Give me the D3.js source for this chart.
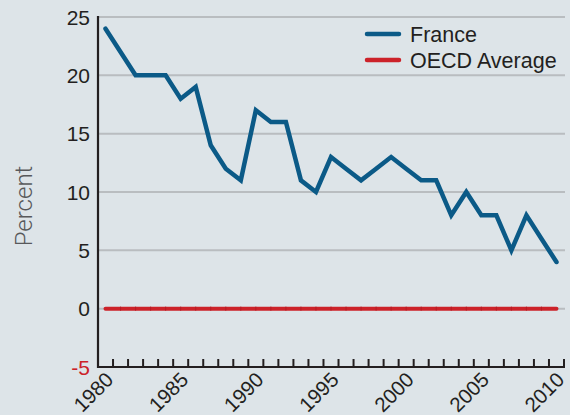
<!DOCTYPE html>
<html><head><meta charset="utf-8">
<script src="https://cdn.jsdelivr.net/npm/d3@7"></script>
<style>
html,body{margin:0;padding:0;background:#dde4e8;}
svg{display:block;font-family:"Liberation Sans",Arial,Helvetica,sans-serif;}
</style></head>
<body><svg id="c" width="570" height="415"></svg>
<script>
const years = d3.range(1980, 2011);
const france = [24,22,20,20,20,18,19,14,12,11,17,16,16,11,10,13,12,11,12,13,12,11,11,8,10,8,8,5,8,6,4];
const oecd = years.map(() => 0);
const yTicks = [-5,0,5,10,15,20,25];
const xTickLabels = [1980,1985,1990,1995,2000,2005,2010];
const seriesNames = ["France","OECD Average"];
const seriesColors = ["#0b5a87","#cc2229"];

const svg = d3.select("#c");
svg.append("rect").attr("width",570).attr("height",415).attr("fill","#dde4e8");

const x = d3.scaleLinear().domain([1979.5, 2010.5]).range([98, 564]);
const y = d3.scaleLinear().domain([-5, 25]).range([367, 17]);

// gridlines
svg.append("g").selectAll("line").data(yTicks.filter(d => d > -5)).join("line")
  .attr("x1", 98).attr("x2", 565).attr("y1", d => y(d)).attr("y2", d => y(d))
  .attr("stroke", "#b9bdc0").attr("stroke-width", 2);

// y labels
svg.append("g").selectAll("text").data(yTicks).join("text")
  .attr("x", 90).attr("y", d => y(d)).attr("dy", "0.36em")
  .attr("text-anchor", "end").attr("font-size", 21)
  .attr("fill", d => d < 0 ? "#cc2229" : "#231f20").text(d => d);

// x ticks (band boundaries)
const bounds = d3.range(1980.5, 2011, 1);
svg.append("g").selectAll("line").data(bounds).join("line")
  .attr("x1", d => x(d)).attr("x2", d => x(d)).attr("y1", 367).attr("y2", 359)
  .attr("stroke", "#231f20").attr("stroke-width", 2);

// axes
svg.append("line").attr("x1", 98).attr("x2", 98).attr("y1", 16).attr("y2", 368)
  .attr("stroke", "#231f20").attr("stroke-width", 2.2);
svg.append("line").attr("x1", 97).attr("x2", 565).attr("y1", 367).attr("y2", 367)
  .attr("stroke", "#231f20").attr("stroke-width", 2.2);

// x labels
svg.append("g").selectAll("text").data(xTickLabels).join("text")
  .attr("transform", d => `translate(${x(d)+9},${381}) rotate(-45)`)
  .attr("text-anchor", "end").attr("font-size", 20.5).attr("fill", "#231f20").text(d => d);

// OECD line
const line = d3.line().x((d,i) => x(years[i])).y(d => y(d));
svg.append("path").datum(oecd).attr("d", line).attr("fill", "none")
  .attr("stroke", seriesColors[1]).attr("stroke-width", 4).attr("stroke-linecap", "round");
svg.append("g").selectAll("line").data(years.slice(1, -1)).join("line")
  .attr("x1", d => x(d)).attr("x2", d => x(d)).attr("y1", y(0) - 2).attr("y2", y(0) + 2)
  .attr("stroke", "#b51d25").attr("stroke-width", 1);

// France line
svg.append("path").datum(france).attr("d", line).attr("fill", "none")
  .attr("stroke", seriesColors[0]).attr("stroke-width", 4.5)
  .attr("stroke-linejoin", "miter").attr("stroke-linecap", "round");

// y axis title
svg.append("text").attr("transform", "translate(32,206) rotate(-90)")
  .attr("text-anchor", "middle").attr("font-size", 24).attr("font-weight", 300)
  .style("font-family", "Roboto, 'Liberation Sans', sans-serif")
  .attr("fill", "#58595b").text("Percent");

// legend
const leg = svg.append("g").selectAll("g").data(seriesNames).join("g")
  .attr("transform", (d,i) => `translate(0,${34 + i*26})`);
leg.append("line").attr("x1", 367).attr("x2", 399).attr("stroke", (d,i) => seriesColors[i])
  .attr("stroke-width", 4.5).attr("stroke-linecap", "round");
leg.append("text").attr("x", 410).attr("y", 0).attr("dy", "0.36em").attr("font-size", 21.5)
  .attr("fill", "#231f20").text(d => d);
</script></body></html>
